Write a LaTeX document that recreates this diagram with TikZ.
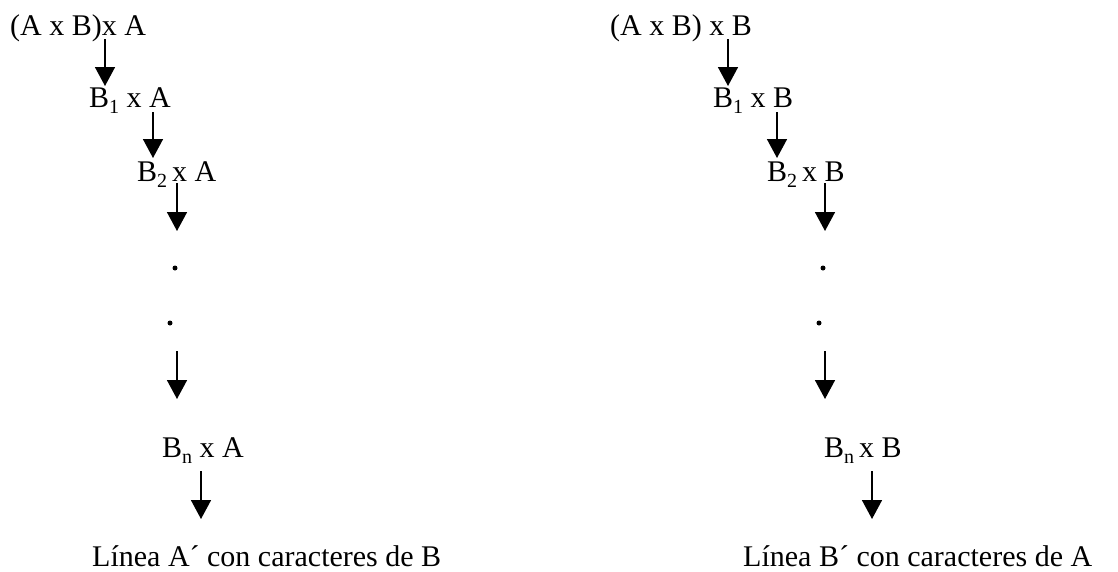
\documentclass[tikz,border=0pt]{standalone}
\usepackage{fontspec}
\setmainfont{Liberation Serif}
\usetikzlibrary{arrows.meta}
\newcommand{\sbs}[1]{\raisebox{-0.2em}{\fontsize{20}{20}\selectfont #1}}
\tikzset{
  lbl/.style={anchor=base west, inner sep=0pt, font=\fontsize{30}{33}\selectfont},
  arr/.style={line width=1.6pt, -{Triangle[length=19pt,width=20pt]}},
  dotmark/.style={circle, fill=black, inner sep=0pt, minimum size=5pt}
}
\begin{document}
\begin{tikzpicture}[x=1pt,y=-1pt]
\useasboundingbox (0,0) rectangle (1118,571);
% left column
\node[lbl] (l0) at (10,35) {(A x B)x A};
\node[lbl] (l1) at (89,107) {B\sbs{1} x A};
\node[lbl] (l2) at (137,181) {B\sbs{2}\,x A};
\node[dotmark] (ld1) at (175,268) {};
\node[dotmark] (ld2) at (170,323) {};
\node[lbl] (ln) at (162,457) {B\sbs{n} x A};
\node[lbl] (lf) at (92,566) {Línea A´ con caracteres de B};
% right column
\node[lbl] (r0) at (610,35) {(A x B) x B};
\node[lbl] (r1) at (713,107) {B\sbs{1} x B};
\node[lbl] (r2) at (767,181) {B\sbs{2}\,x B};
\node[dotmark] (rd1) at (823,268) {};
\node[dotmark] (rd2) at (819,323) {};
\node[lbl] (rn) at (824,457) {B\sbs{n}\,x B};
\node[lbl] (rf) at (743,566) {Línea B´ con caracteres de A};
% arrow end points
\path (105,39) coordinate (la1s) (105,86) coordinate (la1e)
      (153,112) coordinate (la2s) (153,158) coordinate (la2e)
      (177,183) coordinate (la3s) (177,231) coordinate (la3e)
      (177,351) coordinate (la4s) (177,399) coordinate (la4e)
      (201,471) coordinate (la5s) (201,519) coordinate (la5e)
      (728,39) coordinate (ra1s) (728,86) coordinate (ra1e)
      (777,112) coordinate (ra2s) (777,158) coordinate (ra2e)
      (825,183) coordinate (ra3s) (825,231) coordinate (ra3e)
      (825,351) coordinate (ra4s) (825,399) coordinate (ra4e)
      (872,471) coordinate (ra5s) (872,519) coordinate (ra5e);
\foreach \s in {l,r}{
  \foreach \i in {1,...,5}{
    \draw[arr] (\s a\i s) -- (\s a\i e);
  }
}
\end{tikzpicture}
\end{document}
